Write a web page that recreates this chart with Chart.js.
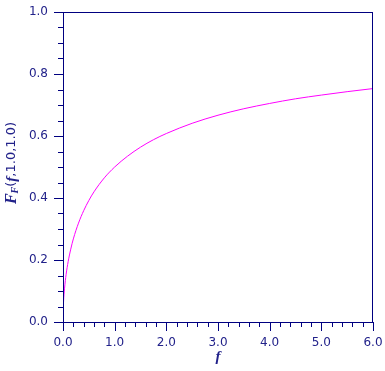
<!DOCTYPE html>
<html>
<head>
<meta charset="utf-8">
<script src="https://cdn.jsdelivr.net/npm/chart.js@4.4.0/dist/chart.umd.min.js"></script>
<style>
  html, body { margin: 0; padding: 0; background: #fff; }
  #wrap { width: 385px; height: 371px; }
</style>
</head>
<body>
<div id="wrap"><canvas id="cdf"></canvas></div>
<script>
// values
var fValues = [0, 0.003, 0.01, 0.03, 0.06, 0.1, 0.15, 0.2, 0.3, 0.4, 0.5, 0.6, 0.8, 1.0, 1.25, 1.5, 1.75, 2.0, 2.5, 3.0, 3.5, 4.0, 4.5, 5.0, 5.5, 6.0];
var cdfValues = [0, 0.035, 0.064, 0.109, 0.153, 0.195, 0.235, 0.268, 0.319, 0.359, 0.392, 0.420, 0.465, 0.500, 0.535, 0.564, 0.588, 0.608, 0.641, 0.667, 0.688, 0.705, 0.720, 0.732, 0.743, 0.753];
var xTickLabels = ['0.0', '1.0', '2.0', '3.0', '4.0', '5.0', '6.0'];
var yTickLabels = ['0.0', '0.2', '0.4', '0.6', '0.8', '1.0'];

var navy = '#000080';
var textCol = '#22228a';

var pts = fValues.map(function (f, i) { return { x: f, y: cdfValues[i] }; });

function isMajor(v, step) {
  var r = v / step;
  return Math.abs(r - Math.round(r)) < 1e-6;
}

// frame, tick marks and axis titles
var axesPlugin = {
  id: 'axesPlugin',
  afterDraw: function (chart) {
    var ctx = chart.ctx;
    var a = chart.chartArea;
    var xs = chart.scales.x, ys = chart.scales.y;
    ctx.save();
    ctx.strokeStyle = navy;
    ctx.lineWidth = 1;
    ctx.strokeRect(Math.round(a.left) + 0.5, Math.round(a.top) + 0.5,
      Math.round(a.right - a.left) - 1, Math.round(a.bottom - a.top));
    ctx.beginPath();
    var i, v, p;
    for (i = 0; i <= 30; i++) {
      v = i * 0.2;
      p = Math.round(xs.getPixelForValue(v)) + 0.5;
      ctx.moveTo(p, a.bottom);
      ctx.lineTo(p, a.bottom + (isMajor(v, 1) ? 9 : 5));
    }
    for (i = 0; i <= 20; i++) {
      v = i * 0.05;
      p = Math.round(ys.getPixelForValue(v)) + 0.5;
      ctx.moveTo(a.left, p);
      ctx.lineTo(a.left - (isMajor(v, 0.2) ? 9 : 5), p);
    }
    ctx.stroke();

    // x title
    ctx.fillStyle = textCol;
    ctx.font = 'bold italic 15px "Liberation Serif"';
    ctx.textAlign = 'center';
    ctx.textBaseline = 'middle';
    ctx.fillText('f', (a.left + a.right) / 2, 357);

    // y title, rotated
    ctx.translate(12, (a.top + a.bottom) / 2 - 4);
    ctx.rotate(-Math.PI / 2);
    var parts = [
      { t: 'F', f: 'bold italic 16px "Liberation Serif"', dy: 0 },
      { t: 'F', f: 'bold italic 10px "Liberation Serif"', dy: 3 },
      { t: '(', f: '13px "DejaVu Sans"', dy: 0 },
      { t: 'f', f: 'bold italic 15px "Liberation Serif"', dy: 0 },
      { t: ',1.0,1.0)', f: '13px "DejaVu Sans"', dy: 0 }
    ];
    var total = 0;
    parts.forEach(function (q) { ctx.font = q.f; q.w = ctx.measureText(q.t).width; total += q.w; });
    var x = -total / 2;
    ctx.textAlign = 'left';
    parts.forEach(function (q) {
      ctx.font = q.f;
      ctx.fillText(q.t, x, q.dy);
      x += q.w;
    });
    ctx.restore();
  }
};

new Chart(document.getElementById('cdf'), {
  type: 'scatter',
  data: {
    datasets: [{
      data: pts,
      showLine: true,
      borderColor: '#ff00ff',
      borderWidth: 1,
      pointRadius: 0,
      cubicInterpolationMode: 'monotone'
    }]
  },
  options: {
    responsive: true,
    maintainAspectRatio: false,
    animation: false,
    layout: { padding: { left: 0, top: 12, right: 12, bottom: 0 } },
    plugins: { legend: { display: false }, tooltip: { enabled: false } },
    scales: {
      x: {
        type: 'linear',
        min: 0,
        max: 6,
        afterBuildTicks: function (s) {
          s.ticks = xTickLabels.map(function (l) { return { value: parseFloat(l) }; });
        },
        afterFit: function (s) { s.height = 49; s.paddingLeft = 0; s.paddingRight = 0; },
        grid: { display: true, drawOnChartArea: false, tickLength: 9, tickColor: 'rgba(0,0,0,0)' },
        border: { display: false },
        ticks: {
          padding: 5,
          color: textCol,
          font: { family: '"DejaVu Sans"', size: 12 },
          maxRotation: 0,
          callback: function (v) { return v.toFixed(1); }
        }
      },
      y: {
        min: 0,
        max: 1,
        afterBuildTicks: function (s) {
          s.ticks = yTickLabels.map(function (l) { return { value: parseFloat(l) }; });
        },
        afterFit: function (s) { s.width = 63; s.paddingTop = 0; s.paddingBottom = 0; },
        grid: { display: true, drawOnChartArea: false, tickLength: 9, tickColor: 'rgba(0,0,0,0)' },
        border: { display: false },
        ticks: {
          padding: 6,
          color: textCol,
          font: { family: '"DejaVu Sans"', size: 12 },
          callback: function (v) { return v.toFixed(1); }
        }
      }
    }
  },
  plugins: [axesPlugin]
});
</script>
</body>
</html>
